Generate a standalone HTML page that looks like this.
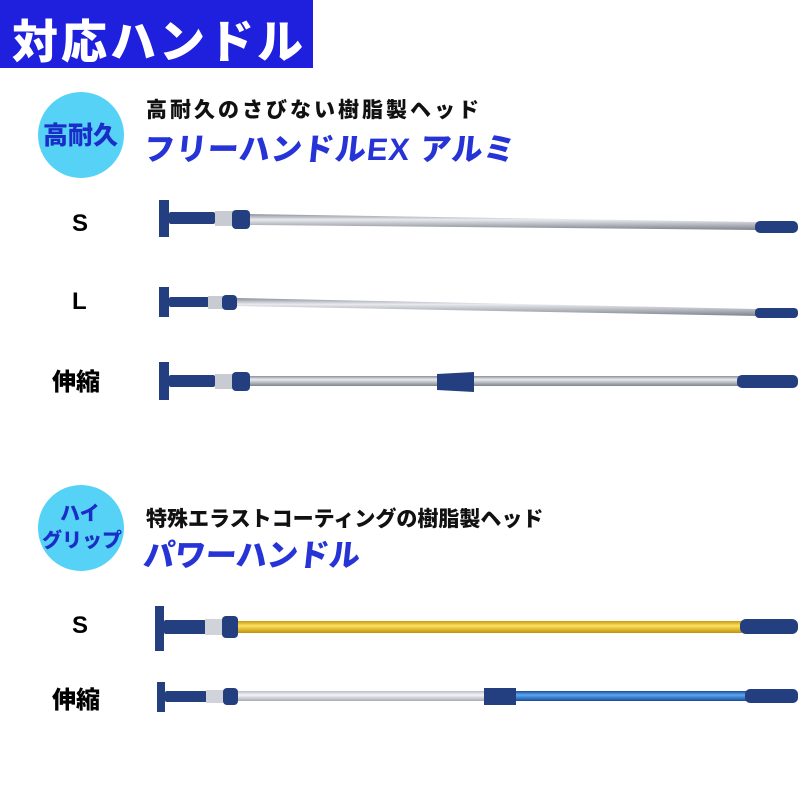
<!DOCTYPE html>
<html><head><meta charset="utf-8"><style>
body{margin:0;width:800px;height:800px;background:#fff;overflow:hidden;position:relative;font-family:"Liberation Sans","Noto Sans CJK JP",sans-serif}
.t{position:absolute;font-weight:900;white-space:nowrap}
</style></head><body>
<div style="position:absolute;left:0;top:0;width:313px;height:68px;background:#1f1fde"></div>
<div class="t" style="left:12px;top:6px;font-size:46px;color:#fff;letter-spacing:3px">対応ハンドル</div>

<div style="position:absolute;left:38px;top:92px;width:86px;height:86px;border-radius:50%;background:#56d2f6"></div>
<div class="t" style="left:43px;top:116px;font-size:25px;color:#1a2dc8">高耐久</div>
<div class="t" style="left:146px;top:94px;font-size:21px;color:#111;letter-spacing:3px">高耐久のさびない樹脂製ヘッド</div>
<div class="t" style="left:144px;top:124px;font-size:31px;color:#2633d6;transform:skewX(-6deg);letter-spacing:1px">フリーハンドルEX アルミ</div>

<div style="position:absolute;left:38px;top:485px;width:86px;height:86px;border-radius:50%;background:#56d2f6"></div>
<div class="t" style="left:60px;top:497px;font-size:20px;color:#1a2dc8">ハイ</div>
<div class="t" style="left:42px;top:524px;font-size:20px;color:#1a2dc8">グリップ</div>
<div class="t" style="left:146px;top:503px;font-size:21px;color:#111">特殊エラストコーティングの樹脂製ヘッド</div>
<div class="t" style="left:144px;top:530px;font-size:31px;color:#2633d6;transform:skewX(-6deg)">パワーハンドル</div>

<div class="t" style="left:72px;top:210px;font-size:24px">S</div>
<div class="t" style="left:72px;top:288px;font-size:24px">L</div>
<div class="t" style="left:52px;top:362px;font-size:24px">伸縮</div>
<div class="t" style="left:72px;top:612px;font-size:24px">S</div>
<div class="t" style="left:52px;top:680px;font-size:24px">伸縮</div>

<svg width="800" height="800" style="position:absolute;left:0;top:0">
<defs>
<linearGradient id="al" x1="0" y1="0" x2="0" y2="1"><stop offset="0" stop-color="#8a8f9a"/><stop offset=".35" stop-color="#e8eaee"/><stop offset="1" stop-color="#7d828c"/></linearGradient>
<linearGradient id="ye" x1="0" y1="0" x2="0" y2="1"><stop offset="0" stop-color="#c89a10"/><stop offset=".4" stop-color="#ffe060"/><stop offset="1" stop-color="#c0900a"/></linearGradient>
<linearGradient id="bl" x1="0" y1="0" x2="0" y2="1"><stop offset="0" stop-color="#1a4a9a"/><stop offset=".4" stop-color="#5aa8f0"/><stop offset="1" stop-color="#1a4a9a"/></linearGradient>
<linearGradient id="wh" x1="0" y1="0" x2="0" y2="1"><stop offset="0" stop-color="#b8bcc4"/><stop offset=".4" stop-color="#f4f5f7"/><stop offset="1" stop-color="#a8acb4"/></linearGradient>
</defs>
<g fill="#243f80">
<rect x="159" y="200" width="10" height="37"/><rect x="169" y="212" width="46" height="12" rx="2"/>
<rect x="215" y="211" width="18" height="15" fill="#c8ccd2"/><rect x="232" y="210" width="18" height="19" rx="4"/>
<polygon points="250,214 757,222 757,230 250,225" fill="url(#al)"/>
<rect x="755" y="221" width="43" height="12" rx="5"/>
<rect x="159" y="287" width="10" height="30"/><rect x="169" y="297" width="40" height="10" rx="2"/>
<rect x="208" y="296" width="15" height="13" fill="#c8ccd2"/><rect x="222" y="295" width="15" height="15" rx="4"/>
<polygon points="237,298 757,309 757,316 237,306" fill="url(#al)"/>
<rect x="755" y="308" width="43" height="10" rx="4"/>
<rect x="159" y="362" width="10" height="38"/><rect x="169" y="375" width="46" height="12" rx="2"/>
<rect x="215" y="374" width="18" height="15" fill="#c8ccd2"/><rect x="232" y="372" width="18" height="19" rx="4"/>
<rect x="250" y="376" width="490" height="10" fill="url(#al)"/>
<polygon points="437,374 474,372 474,392 437,390"/>
<rect x="737" y="375" width="61" height="13" rx="5"/>
<rect x="155" y="606" width="9" height="45"/><rect x="164" y="620" width="42" height="14" rx="2"/>
<rect x="205" y="619" width="18" height="16" fill="#d0d4da"/><rect x="222" y="616" width="16" height="22" rx="4"/>
<rect x="238" y="621" width="504" height="12" fill="url(#ye)"/>
<rect x="740" y="619" width="58" height="15" rx="6"/>
<rect x="157" y="682" width="8" height="30"/><rect x="165" y="691" width="42" height="11" rx="2"/>
<rect x="206" y="690" width="18" height="13" fill="#d0d4da"/><rect x="223" y="688" width="15" height="17" rx="4"/>
<rect x="238" y="691" width="248" height="10" fill="url(#wh)"/>
<rect x="484" y="688" width="32" height="17"/>
<rect x="516" y="691" width="232" height="10" fill="url(#bl)"/>
<rect x="745" y="689" width="53" height="14" rx="5"/>
</g>
</svg>
</body></html>
